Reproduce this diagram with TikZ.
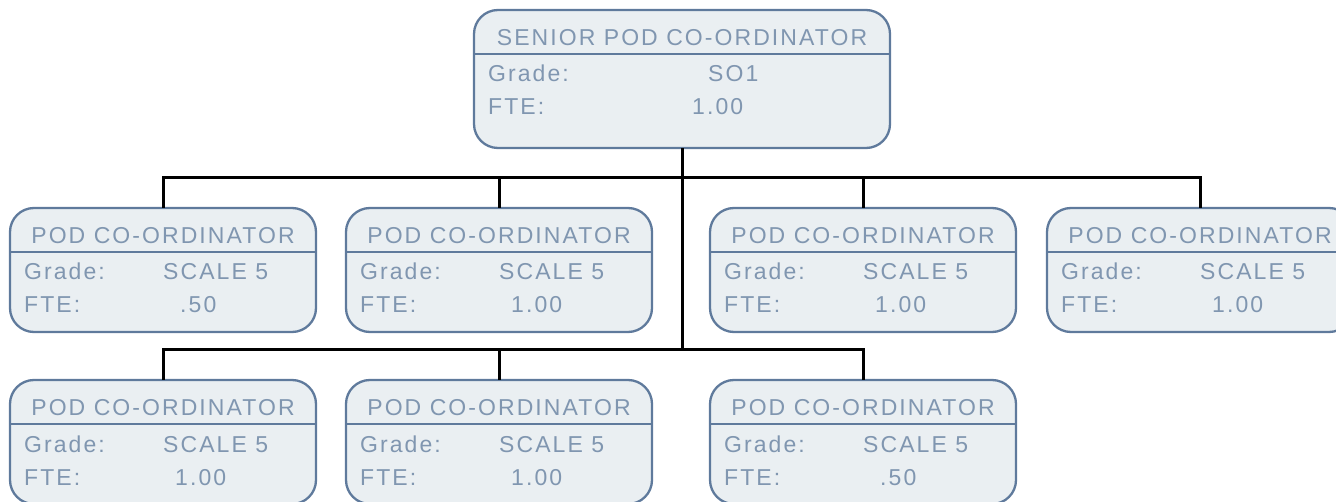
\documentclass[tikz,border=0pt]{standalone}
\usepackage{fontspec}
\setmainfont{Liberation Sans}[LetterSpace=9]
\definecolor{bd}{RGB}{95,122,156}
\definecolor{tx}{RGB}{128,150,176}
\definecolor{fl}{RGB}{234,239,242}
\tikzset{
  box/.style={draw=bd, fill=fl, line width=2.3pt, rounded corners=24pt, inner sep=0pt, outer sep=0pt, anchor=north west},
  divline/.style={draw=bd, line width=2.3pt},
  lbl/.style={text=tx, font=\fontsize{23}{26}\selectfont, inner sep=0pt, anchor=base west},
  ttl/.style={lbl, anchor=base},
  conn/.style={draw=black, line width=3pt}
}
% #1 name, #2 left, #3 top, #4 width, #5 height, #6 title
\newcommand\orgbox[6]{%
  \node[box, minimum width=#4pt, minimum height=#5pt] (#1) at (#2,#3) {};
  \draw[divline] (#2,{#3+44}) -- ({#2+#4},{#3+44});
  \node[ttl] (#1t) at ({#2+#4/2},{#3+36}) {#6};
  \node[lbl] (#1g) at ({#2+14},{#3+72}) {Grade:};
  \node[lbl] (#1f) at ({#2+14},{#3+105}) {FTE:};
}
% #1 name, #2 left, #3 top, #4 grade value, #5 grade offset, #6 fte value, #7 fte offset
\newcommand\orgvals[7]{%
  \node[lbl] (#1gv) at ({#2+#5},{#3+72}) {#4};
  \node[lbl] (#1fv) at ({#2+#7},{#3+105}) {#6};
}
\begin{document}
\begin{tikzpicture}[x=1pt,y=-1pt]
\useasboundingbox (0,0) rectangle (1336,502);
\clip (0,0) rectangle (1336,502);
% connectors
\coordinate (bus1) at (682,178);
\coordinate (bus2) at (682,350);
% boxes
\orgbox{top}{474}{10}{416}{138}{SENIOR POD CO-ORDINATOR}
\orgvals{top}{474}{10}{SO1}{234}{1.00}{218}
\orgbox{b1}{10}{208}{306}{124}{POD CO-ORDINATOR}
\orgvals{b1}{10}{208}{SCALE 5}{153}{.50}{170}
\orgbox{b2}{346}{208}{306}{124}{POD CO-ORDINATOR}
\orgvals{b2}{346}{208}{SCALE 5}{153}{1.00}{165}
\orgbox{b3}{710}{208}{306}{124}{POD CO-ORDINATOR}
\orgvals{b3}{710}{208}{SCALE 5}{153}{1.00}{165}
\orgbox{b4}{1047}{208}{306}{124}{POD CO-ORDINATOR}
\orgvals{b4}{1047}{208}{SCALE 5}{153}{1.00}{165}
\orgbox{c1}{10}{380}{306}{124}{POD CO-ORDINATOR}
\orgvals{c1}{10}{380}{SCALE 5}{153}{1.00}{165}
\orgbox{c2}{346}{380}{306}{124}{POD CO-ORDINATOR}
\orgvals{c2}{346}{380}{SCALE 5}{153}{1.00}{165}
\orgbox{c3}{710}{380}{306}{124}{POD CO-ORDINATOR}
\orgvals{c3}{710}{380}{SCALE 5}{153}{.50}{170}
% connector lines
\draw[conn] (top.south) -- (bus2);
\draw[conn] (b1.north) |- (bus1) -| (b4.north);
\draw[conn] (b2.north) |- (bus1);
\draw[conn] (b3.north) |- (bus1);
\draw[conn] (c1.north) |- (bus2) -| (c3.north);
\draw[conn] (c2.north) |- (bus2);
\end{tikzpicture}
\end{document}
